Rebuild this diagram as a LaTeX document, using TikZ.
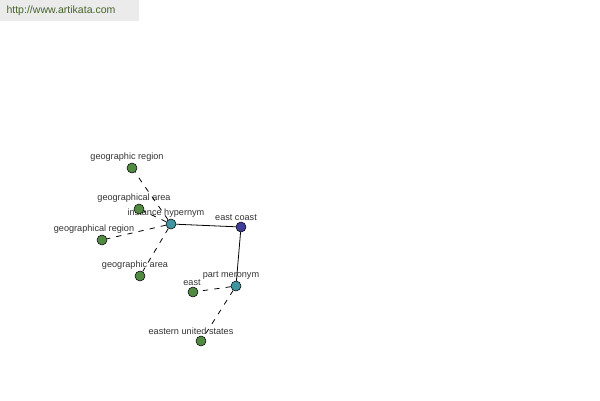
\documentclass[tikz,border=0pt]{standalone}
\usepackage{fontspec}
\setmainfont{Liberation Sans}
\usetikzlibrary{positioning}

\definecolor{leafgreen}{RGB}{82,138,68}
\definecolor{relteal}{RGB}{64,150,160}
\definecolor{headblue}{RGB}{62,62,150}
\definecolor{markgreen}{RGB}{70,100,40}

\begin{document}
\begin{tikzpicture}[
    x=0.02cm, y=-0.02cm,
    term/.style={circle, draw=black, line width=0.3pt, minimum size=0.2cm, inner sep=0pt, fill=leafgreen},
    relation/.style={term, fill=relteal},
    head/.style={term, fill=headblue},
    lbl/.style={font=\fontsize{5.2}{5.5}\selectfont, text=black!80, inner sep=0.5pt, xshift=-0.1cm},
    link/.style={line width=0.45pt},
    weak/.style={line width=0.45pt, dash pattern=on 3pt off 3.5pt},
    stamp/.style={font=\fontsize{6}{6.5}\selectfont, text=markgreen}
]
\useasboundingbox (0,0) rectangle (600,400);

% Watermark
\fill[black!8] (0,0) rectangle (139,21);
\node[stamp] (site) at (61,11) {http://www.artikata.com};

% Centre and relation nodes
\node[head, label={[lbl]above:east coast}] (coast) at (241,227) {};
\node[relation, label={[lbl]above:instance hypernym}] (hyper) at (171,224) {};
\node[relation, label={[lbl]above:part meronym}] (mero) at (236,286) {};

% Leaf nodes
\node[term, label={[lbl]above:geographic region}] (georeg) at (132,168) {};
\node[term, label={[lbl]above:geographical area}] (geoarea) at (139,209) {};
\node[term, label={[lbl, xshift=-0.06cm]above:geographical region}] (geoglreg) at (102,240) {};
\node[term, label={[lbl]above:geographic area}] (geoar) at (140,276) {};
\node[term, label={[lbl, xshift=0.08cm]above:east}] (east) at (193,292) {};
\node[term, label={[lbl, xshift=-0.1cm]above:eastern united states}] (eus) at (201,341) {};

% Solid links
\draw[link] (hyper) -- (coast);
\draw[link] (coast) -- (mero);

% Dashed links
\draw[weak] (hyper) -- (georeg);
\draw[weak] (hyper) -- (geoarea);
\draw[weak] (hyper) -- (geoglreg);
\draw[weak] (hyper) -- (geoar);
\draw[weak] (mero) -- (east);
\draw[weak] (mero) -- (eus);

\end{tikzpicture}
\end{document}
